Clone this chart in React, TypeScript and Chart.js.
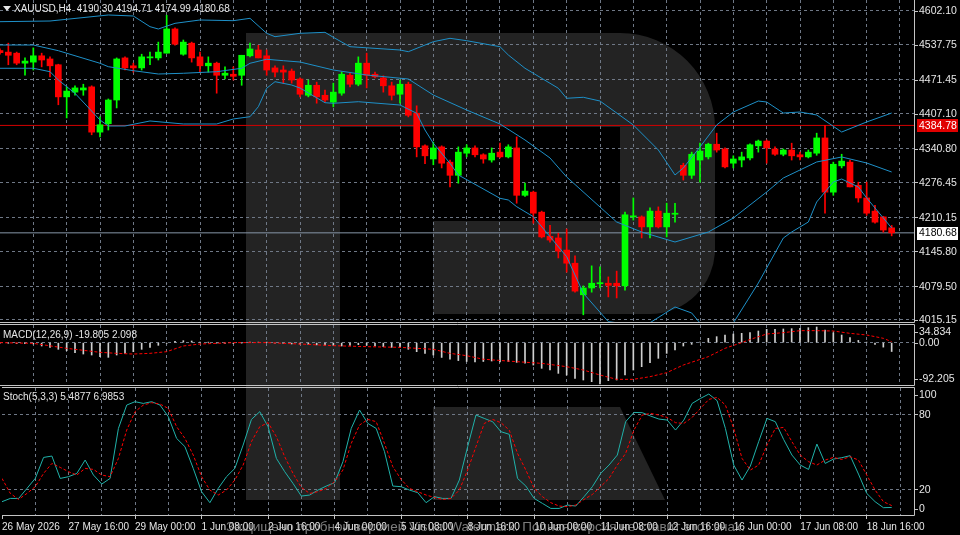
import { useEffect, useRef } from "react";
import { Chart, registerables } from "chart.js";

Chart.register(...registerables);

// ---- H4 candles, XAUUSD (index = candle number, left to right) ----
const opens = [
  4527, 4524, 4522, 4503, 4505, 4517, 4511, 4500, 4439, 4448, 4452, 4458, 4372, 4388, 4433, 4513,
  4498, 4494, 4513, 4513, 4522, 4568, 4520, 4541, 4515, 4498, 4503, 4480, 4482, 4480, 4517, 4528,
  4517, 4494, 4490, 4488, 4473, 4442, 4461, 4442, 4429, 4446, 4480, 4463, 4503, 4482, 4475, 4460,
  4444, 4463, 4408, 4346, 4321, 4344, 4315, 4290, 4332, 4342, 4329, 4319, 4334, 4325, 4342, 4252,
  4258, 4220, 4174, 4171, 4148, 4123, 4063, 4076, 4084, 4085, 4085, 4080, 4211, 4211, 4192, 4222,
  4192, 4216, 4309, 4290, 4319, 4325, 4349, 4340, 4313, 4319, 4323, 4346, 4355, 4340, 4330, 4338,
  4329, 4325, 4332, 4361, 4258, 4308, 4315, 4271, 4247, 4222, 4211, 4190.3,
];
const highs = [
  4530, 4541, 4524, 4513, 4532, 4522, 4515, 4501, 4458, 4460, 4463, 4460, 4401, 4435, 4513, 4515,
  4503, 4520, 4524, 4543, 4594, 4570, 4547, 4543, 4524, 4515, 4505, 4496, 4496, 4518, 4541, 4537,
  4528, 4498, 4498, 4492, 4475, 4471, 4467, 4452, 4465, 4486, 4484, 4515, 4522, 4486, 4479, 4467,
  4471, 4467, 4422, 4348, 4353, 4346, 4319, 4344, 4348, 4346, 4331, 4342, 4351, 4348, 4363, 4275,
  4260, 4222, 4195, 4180, 4188, 4137, 4080, 4118, 4116, 4097, 4108, 4220, 4247, 4213, 4228, 4230,
  4237, 4237, 4313, 4334, 4351, 4351, 4370, 4342, 4327, 4334, 4350, 4357, 4357, 4344, 4340, 4351,
  4334, 4338, 4370, 4385, 4315, 4330, 4319, 4277, 4277, 4233, 4212, 4194.71,
];
const lows = [
  4520, 4500, 4500, 4480, 4490, 4496, 4477, 4424, 4399, 4442, 4442, 4367, 4363, 4376, 4418, 4490,
  4486, 4490, 4500, 4509, 4522, 4537, 4518, 4505, 4486, 4486, 4446, 4473, 4471, 4461, 4515, 4513,
  4480, 4477, 4465, 4465, 4439, 4439, 4427, 4429, 4420, 4442, 4458, 4460, 4456, 4475, 4448, 4433,
  4427, 4401, 4325, 4312, 4310, 4304, 4268, 4275, 4325, 4325, 4313, 4315, 4323, 4323, 4237, 4250,
  4199, 4171, 4163, 4133, 4106, 4068, 4025, 4068, 4076, 4059, 4057, 4072, 4205, 4171, 4171, 4190,
  4173, 4201, 4281, 4284, 4277, 4321, 4334, 4304, 4304, 4306, 4319, 4334, 4313, 4328, 4327, 4319,
  4319, 4323, 4328, 4218, 4252, 4304, 4268, 4239, 4214, 4199, 4182, 4174.99,
];
const closes = [
  4523, 4518, 4503, 4507, 4517, 4509, 4498, 4439, 4450, 4456, 4456, 4372, 4386, 4433, 4511, 4494,
  4494, 4515, 4515, 4524, 4568, 4539, 4543, 4513, 4498, 4503, 4480, 4484, 4478, 4518, 4530, 4513,
  4490, 4486, 4486, 4471, 4444, 4461, 4439, 4433, 4448, 4482, 4463, 4503, 4480, 4477, 4460, 4442,
  4463, 4404, 4344, 4327, 4342, 4313, 4290, 4334, 4342, 4329, 4321, 4332, 4325, 4344, 4252, 4260,
  4218, 4173, 4167, 4146, 4123, 4070, 4076, 4085, 4086, 4081, 4080, 4215, 4213, 4192, 4222, 4192,
  4218, 4218, 4290, 4330, 4336, 4349, 4338, 4306, 4321, 4325, 4348, 4355, 4342, 4330, 4338, 4327,
  4325, 4334, 4361, 4258, 4311, 4317, 4268, 4247, 4218, 4201, 4186, 4180.68,
];

// Bollinger Bands (20, 2) at the bends
const bbUpperAt = [0, 6, 13, 16, 18, 19, 21, 24, 28, 30, 32, 33, 36, 39, 40, 42, 48, 49, 52, 54, 56, 60, 61, 63, 67, 68, 70, 72, 76, 79, 81, 82, 84, 86, 88, 91, 92, 94, 96, 98, 101, 104, 107];
const bbUpper = [4581.8, 4583.1, 4594.5, 4592.6, 4572.3, 4567.9, 4578.7, 4585.0, 4583.7, 4588.2, 4559.7, 4553.3, 4559.7, 4561.6, 4552.1, 4534.3, 4528.0, 4524.8, 4543.8, 4550.2, 4545.7, 4534.3, 4518.5, 4493.3, 4455.3, 4436.3, 4438.2, 4431.1, 4385.6, 4338.1, 4290.6, 4303.9, 4343.8, 4385.6, 4410.2, 4431.1, 4429.2, 4408.3, 4410.2, 4404.6, 4372.2, 4391.3, 4408.3];
const bbMiddleAt = [0, 4, 7, 12, 13, 16, 19, 22, 26, 29, 30, 32, 34, 36, 40, 44, 49, 52, 56, 60, 63, 66, 68, 72, 74, 77, 81, 85, 88, 92, 94, 96, 98, 101, 104, 107];
const bbMiddle = [4537.5, 4537.5, 4526.7, 4502.8, 4496.3, 4488.7, 4482.4, 4483.8, 4486.8, 4493.3, 4502.8, 4510.4, 4507.7, 4505.2, 4490.0, 4480.5, 4472.9, 4442.5, 4414.0, 4387.4, 4357.1, 4322.9, 4286.8, 4229.8, 4201.3, 4182.3, 4163.3, 4182.3, 4208.9, 4258.3, 4284.9, 4300.1, 4315.3, 4324.8, 4313.4, 4296.3];
const bbLowerAt = [0, 4, 6, 7, 9, 12, 13, 15, 18, 22, 26, 28, 30, 31, 32, 33, 35, 36, 39, 40, 43, 48, 50, 51, 52, 54, 55, 60, 61, 62, 64, 66, 68, 70, 73, 75, 78, 81, 83, 84, 86, 88, 91, 94, 95, 97, 98, 100, 101, 103, 104, 107];
const bbLower = [4493.3, 4493.3, 4486.8, 4471.0, 4445.8, 4395.0, 4383.7, 4383.7, 4393.2, 4387.5, 4387.5, 4397.0, 4401.3, 4420.3, 4455.3, 4467.8, 4461.5, 4455.8, 4427.9, 4426.8, 4429.8, 4423.5, 4407.8, 4376.0, 4350.8, 4312.8, 4290.6, 4246.3, 4243.1, 4230.4, 4211.4, 4173.4, 4135.4, 4065.9, 4012.0, 4008.0, 4010.0, 4039.9, 4028.5, 4009.5, 3995.0, 4009.5, 4085.4, 4170.9, 4182.3, 4201.3, 4239.3, 4277.3, 4283.0, 4267.8, 4247.0, 4189.9];

// MACD (12,26,9): histogram per candle, signal at the bends
const macdMain = [
  -1, -1.5, -2, -2.5, -3, -7.5, -10.5, -14.9, -17.9, -22.4, -25.4, -27.6, -31.3, -32.8, -27.6, -23.9,
  -20.2, -14.9, -10.5, -6.0, -1.6, 2.9, 4.4, 3.6, 1.4, 0.5, -1, -1.5, -2, -1, 0.5, 1,
  0.5, -1, -2, -3, -3.5, -4, -5, -5.5, -6, -7.5, -6, -4.5, -6, -7.5, -9, -10.5,
  -10.5, -14.9, -20.2, -23.9, -27.6, -33, -37, -40, -42, -43, -42, -41, -43, -42, -44, -46,
  -50, -57.3, -61, -68.5, -72.2, -79.6, -83.3, -87, -92.205, -84.8, -83.3, -72.2, -61, -53.6, -44.7, -35,
  -23.9, -16.4, -7.5, -3.8, 1.5, 9.6, 13.3, 17, 19.2, 20.7, 22.2, 25.9, 29.6, 29.6, 30.4, 31.1,
  31.9, 33.3, 34.834, 28, 22, 17, 11, 5, 1, -4, -10, -19.805,
];
const macdSignalAt = [0, 4, 8, 12, 14, 16, 18, 20, 22, 24, 28, 32, 36, 40, 44, 48, 52, 54, 56, 58, 62, 65, 68, 70, 72, 74, 76, 78, 80, 82, 85, 87, 89, 90, 92, 94, 96, 98, 100, 102, 104, 106, 107];
const macdSignal = [0, -1.6, -12.7, -21.6, -23.9, -25.4, -23.9, -20.2, -7.5, -3.1, 0, 0, -3.1, -6.8, -9.0, -10.5, -14.9, -23.9, -29.1, -37.0, -42.4, -46.2, -53.6, -61.0, -72.2, -81.8, -81.8, -75.9, -67.0, -49.9, -31.3, -12.7, 0, 7, 19.2, 22.2, 26.7, 26.7, 25.9, 20.7, 17.0, 9.6, 2.098];

// Stochastic (5,3,3)
const stochMain = [
  10.1, 12.7, 12.7, 20.7, 28.7, 45.5, 46.6, 28.7, 30.1, 32.7, 43.4, 31.4, 24.2, 28.7, 68.7, 87.4,
  90.1, 88.7, 90.1, 87.4, 78.1, 60.7, 54.1, 36.7, 18.1, 9.3, 20.7, 30.1, 36.7, 55.4, 75.9, 82.1,
  70.1, 44.7, 34.1, 24.7, 14.6, 15.4, 19.4, 22.6, 25.3, 42.1, 68.7, 83.4, 72.7, 68.7, 50.1, 22.6,
  22.1, 19.4, 17.3, 9.3, 14.1, 12.7, 12.7, 27.4, 54.1, 79.4, 76.7, 74.1, 66.1, 64.0, 28.7, 22.6,
  12.7, 8.7, 4.7, 4.7, 7.4, 6.6, 14.1, 22.1, 32.7, 39.4, 47.4, 74.1, 81.5, 81.3, 78.6, 76.2,
  75.4, 67.4, 75.4, 88.7, 92.7, 96.2, 90.9, 68.7, 39.4, 27.4, 38.6, 58.1, 76.7, 74.1, 59.9, 47.4,
  39.4, 35.9, 56.2, 40.7, 44.2, 45.3, 46.9, 32.2, 16.7, 10.1, 5.3, 5.4877,
];
const stochSignal = [
  28.7, 16.7, 11.9, 16.7, 22.1, 32.7, 40.7, 37.5, 34.1, 31.4, 36.7, 35.9, 31.4, 30.1, 44.7, 67.4,
  82.1, 87.4, 89.3, 88.2, 84.7, 70.1, 60.7, 47.4, 30.1, 19.4, 15.4, 19.4, 27.4, 39.4, 58.1, 70.1,
  73.3, 62.1, 46.1, 32.7, 21.5, 16.7, 18.1, 20.7, 26.1, 35.4, 56.7, 71.4, 75.9, 74.1, 56.7, 38.1,
  27.9, 20.7, 18.1, 15.4, 13.5, 11.9, 12.7, 19.4, 35.4, 54.1, 72.7, 75.9, 73.3, 67.4, 48.7, 35.4,
  20.7, 14.1, 9.3, 6.6, 6.1, 7.4, 11.9, 15.9, 22.1, 28.7, 39.4, 48.7, 67.4, 79.4, 80.7, 79.4,
  77.5, 73.3, 72.7, 77.5, 84.7, 91.9, 93.5, 87.4, 68.7, 44.7, 35.4, 39.4, 55.4, 68.7, 69.5, 58.1,
  47.4, 42.1, 39.4, 43.4, 45.5, 43.9, 46.1, 43.4, 31.4, 19.4, 10.1, 6.9853,
];

// axes
const priceTicks = [4602.1, 4537.75, 4471.45, 4407.1, 4340.8, 4276.45, 4210.15, 4145.8, 4079.5, 4015.15];
const alertLevel = 4384.78;
const stochLevels = [80, 20];
const stochTicks = [100, 80, 20, 0];
const dateLabels = [
  "26 May 2026", "27 May 16:00", "29 May 00:00", "1 Jun 08:00", "2 Jun 16:00", "4 Jun 00:00",
  "5 Jun 08:00", "8 Jun 16:00", "10 Jun 00:00", "11 Jun 08:00", "12 Jun 16:00", "16 Jun 00:00",
  "17 Jun 08:00", "18 Jun 16:00",
];

const BULL = "#00ff00";
const BEAR = "#ff0000";
const BAND = "#1e90c8";
const GRID = "#6f7886";
const FRAME = "#c4c4c4";
const TEXT = "#e6e6e6";
const FONT = "'Liberation Sans', Arial, sans-serif";
const X_MAX = 109.68;
const gridIdx = Array.from({ length: 28 }, (_, k) => k * 4);

Chart.defaults.font.family = FONT;
Chart.defaults.font.size = 10;

const last = closes.length - 1;
const candleColors = closes.map((c, i) => (c >= opens[i] ? BULL : BEAR));
const knots = (at: number[], vals: number[]) => at.map((x, k) => ({ x, y: vals[k] }));

// pane frame, right-hand labels and price tags
const mtPane = {
  id: "mtPane",
  afterDraw(chart: any, _args: any, opts: any) {
    const { ctx, chartArea: a } = chart;
    const ys = chart.scales.y;
    ctx.save();
    ctx.strokeStyle = FRAME;
    ctx.lineWidth = 1;
    ctx.beginPath();
    if (opts.top) {
      ctx.moveTo(a.left, a.top - 0.5);
      ctx.lineTo(a.right + 0.5, a.top - 0.5);
    }
    ctx.moveTo(a.left, a.bottom + 0.5);
    ctx.lineTo(a.right + 0.5, a.bottom + 0.5);
    ctx.moveTo(a.right + 0.5, opts.top ? a.top - 0.5 : 0);
    ctx.lineTo(a.right + 0.5, a.bottom + 0.5);
    ctx.stroke();

    ctx.font = `10.5px ${FONT}`;
    ctx.textBaseline = "middle";
    ctx.textAlign = "left";
    for (const l of opts.labels || []) {
      let py = ys.getPixelForValue(l.value);
      if (opts.clamp) py = Math.min(Math.max(py, a.top + 6.5), a.bottom - 6.5);
      const ty = Math.round(py) + 0.5;
      ctx.beginPath();
      ctx.moveTo(a.right + 1, ty);
      ctx.lineTo(a.right + 4, ty);
      ctx.stroke();
      ctx.fillStyle = TEXT;
      ctx.fillText(l.text, a.right + 5, py + 0.5);
    }
    for (const t of opts.tags || []) {
      const py = ys.getPixelForValue(t.value);
      ctx.fillStyle = t.bg;
      ctx.fillRect(a.right + 3, Math.round(py) - 6, 41, 13);
      ctx.fillStyle = t.fg;
      ctx.fillText(t.text, a.right + 5, py + 0.5);
    }
    ctx.restore();
  },
};

const xScale = (withLabels: boolean): any => ({
  type: "linear",
  min: 0,
  max: X_MAX,
  offset: false,
  afterBuildTicks: (s: any) => {
    s.ticks = gridIdx.map((v) => ({ value: v }));
  },
  ticks: withLabels
    ? {
        display: true,
        autoSkip: false,
        maxRotation: 0,
        minRotation: 0,
        align: "start",
        padding: 2,
        color: TEXT,
        font: { size: 10 },
        callback: (v: number) => (v % 8 === 0 ? dateLabels[v / 8] ?? "" : ""),
      }
    : { display: false },
  grid: {
    offset: false,
    color: (c: any) => (c.tick && c.tick.value > 0 ? GRID : "transparent"),
    drawTicks: withLabels,
    tickLength: 4,
    tickColor: (c: any) => (c.tick && c.tick.value % 8 === 0 ? FRAME : "transparent"),
  },
  border: { display: false, dash: [3, 3] },
  afterFit: (s: any) => {
    s.height = withLabels ? 20 : 0;
  },
});

const yScale = (min: number, max: number, gridVals: number[]): any => ({
  type: "linear",
  position: "right",
  min,
  max,
  afterBuildTicks: (s: any) => {
    s.ticks = gridVals.map((v) => ({ value: v }));
  },
  ticks: { display: false },
  grid: { color: GRID, drawTicks: false },
  border: { display: false, dash: [3, 3] },
  afterFit: (s: any) => {
    s.width = 46;
  },
});

const baseOptions = (padTop: number, padBottom: number): any => ({
  responsive: false,
  animation: false,
  events: [],
  layout: { padding: { left: 0, right: 0, top: padTop, bottom: padBottom } },
});

export default function App() {
  const priceRef = useRef<HTMLCanvasElement>(null);
  const macdRef = useRef<HTMLCanvasElement>(null);
  const stochRef = useRef<HTMLCanvasElement>(null);

  useEffect(() => {
    if (!priceRef.current || !macdRef.current || !stochRef.current) return;
    const charts: Chart[] = [];

    charts.push(
      new Chart(priceRef.current, {
        type: "bar",
        data: {
          datasets: [
            { type: "line", label: "BB upper", data: knots(bbUpperAt, bbUpper), borderColor: BAND, borderWidth: 1, pointRadius: 0, order: 0 },
            { type: "line", label: "BB middle", data: knots(bbMiddleAt, bbMiddle), borderColor: BAND, borderWidth: 1, pointRadius: 0, order: 0 },
            { type: "line", label: "BB lower", data: knots(bbLowerAt, bbLower), borderColor: BAND, borderWidth: 1, pointRadius: 0, order: 0 },
            {
              type: "bar",
              label: "body",
              data: opens.map((o, i) => ({ x: i, y: [o, closes[i]] })),
              backgroundColor: candleColors,
              barThickness: 6,
              minBarLength: 1,
              grouped: false,
              order: 1,
            },
            {
              type: "bar",
              label: "wick",
              data: lows.map((l, i) => ({ x: i, y: [l, highs[i]] })),
              backgroundColor: candleColors,
              barThickness: 1,
              grouped: false,
              order: 2,
            },
            { type: "line", label: "alert", data: [{ x: 0, y: alertLevel }, { x: X_MAX, y: alertLevel }], borderColor: "#d40000", borderWidth: 1, pointRadius: 0, order: 3 },
            { type: "line", label: "bid", data: [{ x: 0, y: closes[last] }, { x: X_MAX, y: closes[last] }], borderColor: "#8796a8", borderWidth: 1, pointRadius: 0, order: 3 },
          ] as any,
        },
        options: {
          ...baseOptions(0, 1),
          scales: { x: xScale(false), y: yScale(4011.35, 4622.99, priceTicks) },
          plugins: {
            legend: { display: false },
            tooltip: { enabled: false },
            mtPane: {
              top: false,
              labels: priceTicks.map((v) => ({ value: v, text: v.toFixed(2) })),
              tags: [
                { value: alertLevel, text: alertLevel.toFixed(2), bg: "#e00000", fg: "#ffffff" },
                { value: closes[last], text: closes[last].toFixed(2), bg: "#ffffff", fg: "#000000" },
              ],
            },
          } as any,
        },
        plugins: [mtPane],
      })
    );

    const macdMax = Math.max(...macdMain);
    const macdMin = Math.min(...macdMain);
    charts.push(
      new Chart(macdRef.current, {
        type: "bar",
        data: {
          datasets: [
            { type: "line", label: "signal", data: knots(macdSignalAt, macdSignal), borderColor: "#ff0000", borderWidth: 1, borderDash: [3, 2], pointRadius: 0, order: 0 },
            {
              type: "bar",
              label: "MACD",
              data: macdMain.map((v, i) => ({ x: i, y: v })),
              backgroundColor: "#d0d0d0",
              barThickness: 1,
              grouped: false,
              order: 1,
            },
          ] as any,
        },
        options: {
          ...baseOptions(2, 1),
          scales: { x: xScale(false), y: yScale(-94.43, 39.29, [0]) },
          plugins: {
            legend: { display: false },
            tooltip: { enabled: false },
            mtPane: {
              top: true,
              clamp: true,
              labels: [
                { value: macdMax, text: macdMax.toFixed(3) },
                { value: 0, text: "0.00" },
                { value: macdMin, text: macdMin.toFixed(3) },
              ],
            },
          } as any,
        },
        plugins: [mtPane],
      })
    );

    charts.push(
      new Chart(stochRef.current, {
        type: "line",
        data: {
          datasets: [
            { label: "signal", data: stochSignal.map((v, i) => ({ x: i, y: v })), borderColor: "#ff0000", borderWidth: 1, borderDash: [3, 2], pointRadius: 0, order: 0 },
            { label: "main", data: stochMain.map((v, i) => ({ x: i, y: v })), borderColor: "#20b2aa", borderWidth: 1, pointRadius: 0, order: 1 },
          ],
        },
        options: {
          ...baseOptions(2, 0),
          scales: { x: xScale(true), y: yScale(-0.56, 101.04, stochLevels) },
          plugins: {
            legend: { display: false },
            tooltip: { enabled: false },
            mtPane: {
              top: true,
              clamp: true,
              labels: stochTicks.map((v) => ({ value: v, text: String(v) })),
            },
          } as any,
        },
        plugins: [mtPane],
      })
    );

    return () => charts.forEach((c) => c.destroy());
  }, []);

  const titleStyle: any = {
    position: "absolute",
    left: 3,
    fontSize: 10,
    lineHeight: "13px",
    color: TEXT,
    whiteSpace: "pre",
    fontFamily: FONT,
  };

  return (
    <div
      style={{
        position: "fixed",
        left: 0,
        top: 0,
        width: 960,
        height: 535,
        background: "#000",
        overflow: "hidden",
        fontFamily: FONT,
      }}
    >
      <svg width={960} height={535} style={{ position: "absolute", left: 0, top: 0 }}>
        <path
          d="M246 33 H620 A95 95 0 0 1 715 128 V249 A65 65 0 0 1 650 314 H433 V221 H620 V127 H340 V500 H246 Z"
          fill="#232323"
        />
        <path d="M433 407 H620 L665 500 H433 Z" fill="#232323" />
      </svg>
      <canvas ref={priceRef} width={960} height={323} style={{ position: "absolute", left: 0, top: 0 }} />
      <canvas ref={macdRef} width={960} height={63} style={{ position: "absolute", left: 0, top: 323 }} />
      <canvas ref={stochRef} width={960} height={149} style={{ position: "absolute", left: 0, top: 386 }} />

      <div style={{ ...titleStyle, top: 2, left: 3 }}>
        <span
          style={{
            display: "inline-block",
            width: 0,
            height: 0,
            borderLeft: "4px solid transparent",
            borderRight: "4px solid transparent",
            borderTop: "5px solid " + TEXT,
            marginRight: 3,
            verticalAlign: "1px",
          }}
        />
        {`XAUUSD,H4  ${opens[last].toFixed(2)} ${highs[last].toFixed(2)} ${lows[last].toFixed(2)} ${closes[last].toFixed(2)}`}
      </div>
      <div style={{ ...titleStyle, top: 328 }}>
        {`MACD(12,26,9) ${macdMain[macdMain.length - 1].toFixed(3)} ${macdSignal[macdSignal.length - 1].toFixed(3)}`}
      </div>
      <div style={{ ...titleStyle, top: 390 }}>
        {`Stoch(5,3,3) ${stochMain[last].toFixed(4)} ${stochSignal[last].toFixed(4)}`}
      </div>
      <div
        style={{
          position: "absolute",
          left: 226,
          top: 518,
          fontSize: 13.5,
          lineHeight: "17px",
          color: "rgba(200,200,200,0.62)",
          whiteSpace: "nowrap",
          fontFamily: FONT,
        }}
      >
        Защищено пробной версией Visual Watermark. Полная версия не ставит этот знак.
      </div>
    </div>
  );
}
